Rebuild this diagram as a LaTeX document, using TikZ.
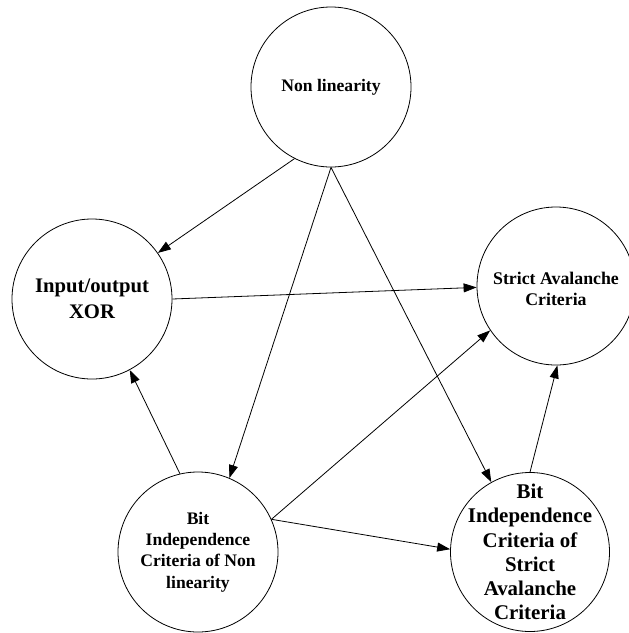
\documentclass[tikz,border=0pt]{standalone}
\usepackage{fontspec}
\setmainfont{Liberation Serif}
\usetikzlibrary{arrows.meta}
\begin{document}
\begin{tikzpicture}[x=1pt,y=-1pt,
  circ/.style={draw,circle,minimum size=160pt,inner sep=0pt,line width=0.8pt},
  lbl/.style={align=center,inner sep=0pt},
  arr/.style={line width=0.8pt,-{Triangle[length=13pt,width=9pt]}}]
\useasboundingbox (0,0) rectangle (629,633);
\node[circ] (nl) at (331,87) {};
\node[circ] (xor) at (92,299) {};
\node[circ,minimum size=158pt] (sac) at (556,286) {};
\node[circ] (binl) at (198,552) {};
\node[circ,minimum size=159pt] (bisac) at (530,552) {};
\node[lbl,font=\fontsize{17.6}{21}\selectfont\bfseries] (nlt) at (nl) {Non linearity};
\node[lbl,font=\fontsize{20.7}{26}\selectfont\bfseries] (xort) at (xor) {Input/output\\XOR};
\node[lbl,font=\fontsize{17.8}{21.7}\selectfont\bfseries] (sact) at (556,289) {Strict Avalanche\\Criteria};
\node[lbl,font=\fontsize{17.6}{21.3}\selectfont\bfseries] (binlt) at (binl) {Bit\\Independence\\Criteria of Non\\linearity};
\node[lbl,font=\fontsize{20.9}{24.3}\selectfont\bfseries] (bisact) at (530,552) {Bit\\Independence\\Criteria of\\Strict\\Avalanche\\Criteria};
\draw[arr] (nl.243) -- (xor.35);
\draw[arr] (nl.270) -- (binl.67);
\draw[arr] (nl.270) -- (bisac.119);
\draw[arr] (xor.0) -- (sac.181);
\draw[arr] (binl.103) -- (xor.298);
\draw[arr] (binl.24) -- (sac.214);
\draw[arr] (binl.24) -- (bisac.178);
\draw[arr] (bisac.90) -- (sac.271);
\end{tikzpicture}
\end{document}
